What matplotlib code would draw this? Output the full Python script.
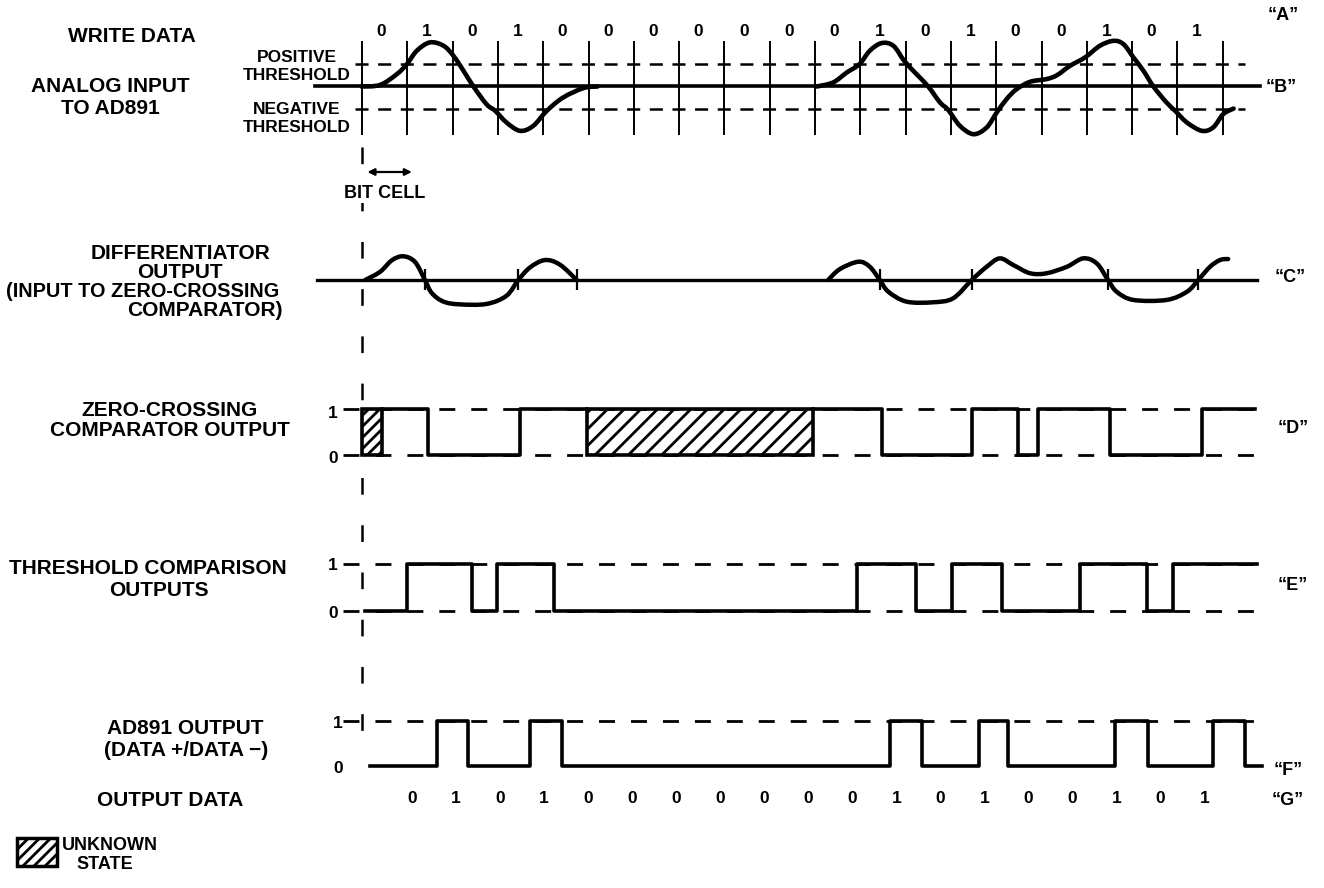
import numpy as np
import matplotlib.pyplot as plt
from matplotlib.patches import Rectangle, PathPatch
from matplotlib.path import Path
from matplotlib.transforms import blended_transform_factory

plt.rcParams['font.family'] = ['Liberation Sans', 'DejaVu Sans']
plt.rcParams['font.weight'] = 'bold'
plt.rcParams['lines.scale_dashes'] = False
plt.rcParams['hatch.linewidth'] = 2.0

W, H = 1324, 888
X0, CELL = 362, 45.3  # pixel x of the first bit boundary, width of a bit cell

# datos
write_data = [0, 1, 0, 1, 0, 0, 0, 0, 0, 0, 0, 1, 0, 1, 0, 0, 1, 0, 1]
output_data = [0, 1, 0, 1, 0, 0, 0, 0, 0, 0, 0, 1, 0, 1, 0, 0, 1, 0, 1]

# "B": analog input, time in bit cells, amplitude in threshold units (two bursts)
analog_t1 = [-0.01, 0.40, 0.77, 0.99, 1.21, 1.50, 1.80, 2.02, 2.24, 2.46, 2.75, 2.94,
             3.19, 3.49, 3.78, 4.08, 4.44, 4.89, 5.2]
analog_v1 = [0, 0.07, 0.55, 0.99, 1.59, 1.96, 1.81, 1.36, 0.70, 0, -0.79, -1.08,
             -1.60, -1.97, -1.75, -1.08, -0.49, -0.07, 0]
analog_t2 = [10.04, 10.40, 10.70, 10.98, 11.21, 11.47, 11.73, 11.97, 12.24, 12.50,
             12.76, 12.94, 13.20, 13.50, 13.79, 14.01, 14.23, 14.45, 14.75, 15.11, 15.34,
             15.63, 15.96, 16.29, 16.59, 16.81, 17.03, 17.25, 17.47, 17.76, 17.95, 18.21,
             18.54, 18.79, 19.01, 19.24]
analog_v2 = [0, 0.18, 0.62, 0.99, 1.59, 1.93, 1.81, 1.14, 0.55, 0,
             -0.71, -1.04, -1.75, -2.12, -1.82, -1.16, -0.56, -0.12, 0.21, 0.33, 0.50,
             0.92, 1.29, 1.81, 2.03, 1.88, 1.29, 0.70, 0, -0.71, -1.08, -1.60,
             -1.97, -1.82, -1.23, -0.98]

# "C": differentiator output (two bursts)
diff_t1 = [0.07, 0.40, 0.66, 0.91, 1.17, 1.39, 1.54, 1.80, 2.16, 2.75, 3.19, 3.45,
           3.71, 4.04, 4.37, 4.74]
diff_v1 = [0, 0.39, 0.94, 1.13, 0.86, 0, -0.62, -1.03, -1.16, -1.14, -0.75, 0,
           0.60, 0.95, 0.73, 0]
diff_t2 = [10.29, 10.55, 10.96, 11.21, 11.43, 11.62, 12.02, 12.61, 13.05, 13.46,
           13.79, 14.08, 14.38, 14.75, 15.11, 15.56, 15.92, 16.22, 16.47, 16.66, 17.03,
           17.76, 18.21, 18.46, 18.72, 18.94, 19.12]
diff_v2 = [0, 0.52, 0.87, 0.63, 0, -0.56, -1.03, -1.06, -0.87, 0,
           0.63, 1.03, 0.71, 0.32, 0.32, 0.63, 1.03, 0.79, 0, -0.56, -0.95,
           -0.95, -0.56, 0, 0.63, 0.95, 1.0]
diff_zero = [1.39, 3.45, 4.74, 11.43, 13.46, 16.47, 18.46]

# "D": zero-crossing comparator (edges, level after each edge)
zc_t1 = [0.45, 1.46, 3.49, 4.97]
zc_v1 = [1, 0, 1, 1]
zc_t2 = [9.96, 11.47, 13.46, 14.49, 14.93, 16.51, 18.54, 19.71]
zc_v2 = [1, 0, 1, 0, 1, 0, 1, 1]
unknown = [(0.0, 0.45), (4.97, 9.96)]

# "E": threshold comparison outputs
thr_t = [0.07, 0.99, 2.42, 2.99, 4.24, 10.92, 12.24, 13.02, 14.12, 15.85, 17.32,
         17.91, 19.75]
thr_v = [0, 1, 0, 1, 0, 1, 0, 1, 0, 1, 0, 1, 1]

# "F": AD891 output
out_t = [0.18, 1.66, 2.35, 3.70, 4.41, 11.66, 12.36, 13.61, 14.27, 16.62, 17.36,
         18.79, 19.49, 19.86]
out_v = [0, 1, 0, 1, 0, 1, 0, 1, 0, 1, 0, 1, 0, 0]

fig = plt.figure(figsize=(W / 100, H / 100), dpi=100)

# axes for text, in pixels
ax0 = fig.add_axes([0, 0, 1, 1])
ax0.set_xlim(0, W)
ax0.set_ylim(H, 0)
ax0.axis('off')


def band(y0, ppu):
    # full-figure axes: x in bit cells, value 0 at pixel row y0, ppu pixels per unit
    ax = fig.add_axes([0, 0, 1, 1])
    ax.patch.set_visible(False)
    ax.set_xlim(-X0 / CELL, (W - X0) / CELL)
    ax.set_ylim((y0 - H) / ppu, y0 / ppu)
    ax.axis('off')
    return ax


def smooth(ax, t, v, lw):
    # curva suave que pasa por los puntos leidos (Bezier tipo Catmull-Rom)
    p = np.column_stack([t, v])
    p = np.vstack([p[0], p, p[-1]])
    verts = [p[1]]
    codes = [Path.MOVETO]
    for i in range(1, len(p) - 2):
        c1 = p[i] + (p[i + 1] - p[i - 1]) / 6
        c2 = p[i + 1] - (p[i + 2] - p[i]) / 6
        verts += [c1, c2, p[i + 1]]
        codes += [Path.CURVE4] * 3
    ax.add_patch(PathPatch(Path(verts, codes), fill=False, lw=lw, edgecolor='black',
                           capstyle='round', joinstyle='round'))


k = dict(color='black')
dash_guide = (11.5, 11.5)

# B
ax_b = band(86.5, 22.5)
ax_b.vlines(np.arange(20), -2.15, 2.0, lw=1.4, **k)
ax_b.plot([-1.04, 19.82], [0, 0], lw=2.6, **k)
for lvl in (1, -1):
    ax_b.plot([-0.1435, 19.5], [lvl, lvl], lw=1.8, dashes=(9.4, 6.9), **k)
smooth(ax_b, analog_t1, analog_v1, 3.3)
smooth(ax_b, analog_t2, analog_v2, 3.3)

tx = blended_transform_factory(ax_b.transData, ax0.transData)

for i, b in enumerate(write_data):
    ax0.text(i + 0.43, 31, str(b), transform=tx, ha='center', va='center', fontsize=12.5)
for i, b in zip(np.linspace(1.1, 18.6, 19), output_data):
    ax0.text(i, 798, str(b), transform=tx, ha='center', va='center', fontsize=12.5)

# C
ax_c = band(280, 21)
ax_c.plot([-0.99, 19.76], [0, 0], lw=2.4, **k)
smooth(ax_c, diff_t1, diff_v1, 3.2)
smooth(ax_c, diff_t2, diff_v2, 3.2)
ax_c.vlines(diff_zero, -0.5, 0.5, lw=1.6, **k)

# D
ax_d = band(455, 46)
for lvl in (0, 1):
    ax_d.plot([-0.42, 19.71], [lvl, lvl], lw=2.0, dashes=dash_guide, **k)
ax_d.step(zc_t1, zc_v1, where='post', lw=2.6, **k)
ax_d.step(zc_t2, zc_v2, where='post', lw=2.6, **k)
for (a, b), h in zip(unknown, ['///', '//']):
    ax_d.add_patch(Rectangle((a, 0), b - a, 1, facecolor='white', edgecolor='black',
                             hatch=h, lw=2.6))

# E
ax_e = band(611, 47)
for lvl in (0, 1):
    ax_e.plot([-0.42, 19.75], [lvl, lvl], lw=2.0, dashes=dash_guide, **k)
ax_e.step(thr_t, thr_v, where='post', lw=2.6, **k)

# F
ax_f = band(766, 45)
ax_f.plot([-0.42, 19.86], [1, 1], lw=2.0, dashes=dash_guide, **k)
ax_f.step(out_t, out_v, where='post', lw=2.6, **k)

# bit cell marker and long dashed reference line
ax0.plot([0, 0], [147, 755], transform=tx, lw=1.8, dashes=(12, 22), **k)
ax0.annotate('', xy=(1.1, 172), xytext=(0.12, 172), xycoords=tx, textcoords=tx,
             arrowprops=dict(arrowstyle='<|-|>', lw=1.6, color='black', mutation_scale=10,
                             shrinkA=0, shrinkB=0))
ax0.text(385, 193, 'BIT CELL', ha='center', va='center', fontsize=13,
         bbox=dict(facecolor='white', edgecolor='none', pad=1))

# left labels
fs = 15
lab = [
    (132, 37, 'WRITE DATA', fs),
    (110, 86, 'ANALOG INPUT', fs),
    (110, 108, 'TO AD891', fs),
    (180, 253, 'DIFFERENTIATOR', fs),
    (180, 272, 'OUTPUT', fs),
    (143, 291, '(INPUT TO ZERO-CROSSING', 14.3),
    (205, 310, 'COMPARATOR)', fs),
    (170, 410, 'ZERO-CROSSING', fs),
    (170, 430, 'COMPARATOR OUTPUT', fs),
    (148, 568, 'THRESHOLD COMPARISON', fs),
    (159, 590, 'OUTPUTS', fs),
    (185, 728, 'AD891 OUTPUT', fs),
    (186, 750, '(DATA +/DATA \u2212)', fs),
    (170, 800, 'OUTPUT DATA', fs),
]
for x, y, s, f in lab:
    ax0.text(x, y, s, ha='center', va='center', fontsize=f)

for y, s in [(57, 'POSITIVE'), (75, 'THRESHOLD'), (110, 'NEGATIVE'), (128, 'THRESHOLD')]:
    ax0.text(297, y, s, ha='center', va='center', fontsize=12.5)

for x, y, s in [(333, 413, '1'), (333, 458, '0'), (333, 565, '1'), (333, 613, '0'),
                (338, 723, '1'), (338, 768, '0')]:
    ax0.text(x, y, s, ha='center', va='center', fontsize=12.5)

for x, y, s in [(1283, 15, 'A'), (1281, 87, 'B'), (1290, 277, 'C'), (1293, 428, 'D'),
                (1293, 585, 'E'), (1288, 770, 'F'), (1288, 800, 'G')]:
    ax0.text(x, y, '\u201c' + s + '\u201d', ha='center', va='center', fontsize=13)

# legend
ax0.add_patch(Rectangle((17, 838), 40, 28, facecolor='white', edgecolor='black',
                        hatch='///', lw=2.5))
ax0.text(62, 845, 'UNKNOWN', ha='left', va='center', fontsize=13)
ax0.text(105, 864, 'STATE', ha='center', va='center', fontsize=13)

fig.savefig('out.png', dpi=100)
